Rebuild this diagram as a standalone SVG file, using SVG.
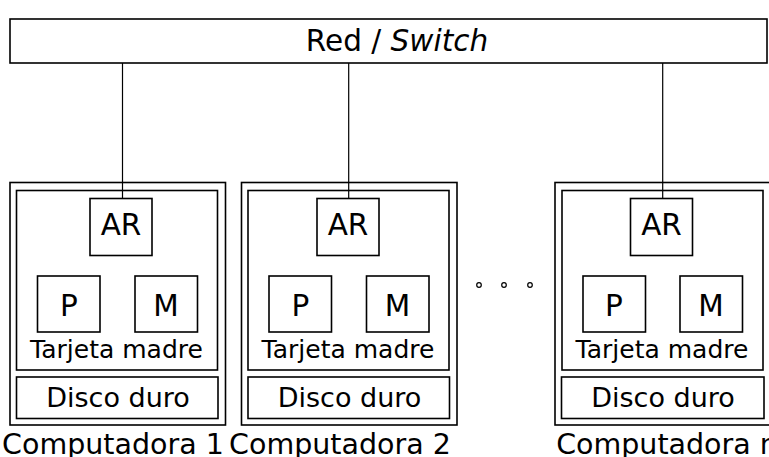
<svg xmlns="http://www.w3.org/2000/svg" width="769" height="457" viewBox="0 0 769 457">
  <style>
    .box { fill: #fff; stroke: #000; stroke-width: 1.6; }
    .wire { fill: none; stroke: #000; stroke-width: 1.2; }
    .dot { fill: #fff; stroke: #000; stroke-width: 1.2; }
    text { font-family: "DejaVu Sans", sans-serif; fill: #000; text-anchor: middle; }
    .big { font-size: 29.5px; }
    .mb { font-size: 25px; }
    .hd { font-size: 27px; }
    .lbl { font-size: 28.5px; }
  </style>

  <!-- network switch -->
  <g id="switch">
    <rect class="box" x="10" y="19" width="757" height="44"/>
    <text class="big" x="397" y="51">Red / <tspan font-style="italic">Switch</tspan></text>
  </g>

  <!-- computer 1 -->
  <g id="computadora-1">
    <rect class="box" x="10" y="182.5" width="215.5" height="242.5"/>
    <rect class="box" x="16.5" y="190.5" width="201" height="179.5"/>
    <rect class="box" x="16.5" y="377" width="201.5" height="41.5"/>
    <rect class="box" x="90" y="198.5" width="62" height="57"/>
    <rect class="box" x="37.5" y="276" width="62.5" height="56"/>
    <rect class="box" x="135" y="276" width="62.5" height="56"/>
    <text class="big" x="121" y="235">AR</text>
    <text class="big" x="69" y="316">P</text>
    <text class="big" x="166" y="316">M</text>
    <text class="mb" x="116.5" y="358">Tarjeta madre</text>
    <text class="hd" x="118" y="407">Disco duro</text>
    <text class="lbl" x="113" y="453.5">Computadora 1</text>
  </g>

  <!-- computer 2 -->
  <g id="computadora-2">
    <rect class="box" x="241.5" y="182.5" width="215.5" height="242.5"/>
    <rect class="box" x="248" y="190.5" width="201" height="179.5"/>
    <rect class="box" x="248" y="377" width="201.5" height="41.5"/>
    <rect class="box" x="317" y="198.5" width="62" height="57"/>
    <rect class="box" x="269" y="276" width="62.5" height="56"/>
    <rect class="box" x="366.5" y="276" width="62.5" height="56"/>
    <text class="big" x="348" y="235">AR</text>
    <text class="big" x="300.5" y="316">P</text>
    <text class="big" x="397.5" y="316">M</text>
    <text class="mb" x="348" y="358">Tarjeta madre</text>
    <text class="hd" x="349.5" y="407">Disco duro</text>
    <text class="lbl" x="340" y="453.5">Computadora 2</text>
  </g>

  <!-- ellipsis between computers -->
  <g id="ellipsis">
    <circle class="dot" cx="479" cy="285" r="2.3"/>
    <circle class="dot" cx="504" cy="285" r="2.3"/>
    <circle class="dot" cx="530" cy="285" r="2.3"/>
  </g>

  <!-- computer n -->
  <g id="computadora-n">
    <rect class="box" x="555" y="182.5" width="215.5" height="242.5"/>
    <rect class="box" x="562" y="190.5" width="201" height="179.5"/>
    <rect class="box" x="561.5" y="377" width="202.5" height="41.5"/>
    <rect class="box" x="630.5" y="198.5" width="62" height="57"/>
    <rect class="box" x="583" y="276" width="62.5" height="56"/>
    <rect class="box" x="680" y="276" width="62.5" height="56"/>
    <text class="big" x="661.5" y="235">AR</text>
    <text class="big" x="614" y="316">P</text>
    <text class="big" x="711" y="316">M</text>
    <text class="mb" x="662" y="358">Tarjeta madre</text>
    <text class="hd" x="663" y="407">Disco duro</text>
    <text class="lbl" x="667" y="453.5">Computadora n</text>
  </g>

  <!-- links from the switch to each network card -->
  <g id="connectors">
    <line class="wire" x1="122.5" y1="63" x2="122.5" y2="198.5"/>
    <line class="wire" x1="348.7" y1="63" x2="348.7" y2="198.5"/>
    <line class="wire" x1="662.7" y1="63" x2="662.7" y2="198.5"/>
  </g>
</svg>
